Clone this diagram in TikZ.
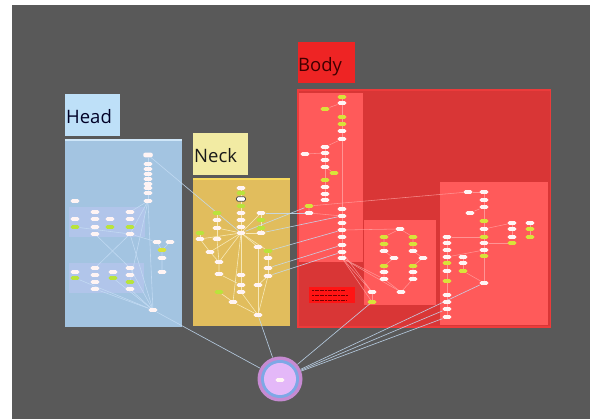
\documentclass[tikz,border=0pt]{standalone}
\usepackage{fontspec}
\setmainfont{Open Sans}
\definecolor{bggray}{HTML}{595959}
\definecolor{headc}{HTML}{A3C4E1}
\definecolor{headtop}{HTML}{CFE6F8}
\definecolor{headlab}{HTML}{BEE0F8}
\definecolor{bandc}{HTML}{B7C6EE}
\definecolor{neckc}{HTML}{E1BD5D}
\definecolor{necktop}{HTML}{F8DA5E}
\definecolor{necklab}{HTML}{F2EBA3}
\definecolor{bodyc}{HTML}{D93636}
\definecolor{bodyedge}{HTML}{EC3B3B}
\definecolor{bodylab}{HTML}{EE2424}
\definecolor{subc}{HTML}{FF5A5A}
\definecolor{notec}{HTML}{FF1414}
\definecolor{gnc}{HTML}{B9E33C}
\definecolor{ync}{HTML}{D9E23A}
\definecolor{pillc}{HTML}{FFF4F4}
\definecolor{ringo}{HTML}{C68AD2}
\definecolor{ringb}{HTML}{7EA8E6}
\definecolor{ringi}{HTML}{E4B8F8}
\definecolor{ledge}{HTML}{C4DCF4}
\definecolor{nedge}{HTML}{FAF0C8}
\definecolor{bedge}{HTML}{FFA8A8}
\pgfdeclarelayer{bgl}
\pgfdeclarelayer{edl}
\pgfsetlayers{bgl,edl,main}
\tikzset{
  wn/.style={fill=pillc, rounded corners=1.4pt, minimum width=8.6pt, minimum height=3.6pt, inner sep=0pt},
  gn/.style={wn, fill=gnc},
  yn/.style={wn, fill=ync},
  bx/.style={wn, fill=white, draw=black!70, line width=0.6pt, minimum width=9pt, minimum height=4.5pt},
  hed/.style={draw=ledge, opacity=0.9, line width=0.6pt},
  ned/.style={draw=nedge, opacity=0.85, line width=0.6pt},
  bed/.style={draw=bedge, opacity=0.75, line width=0.55pt},
  xed/.style={draw=ledge, opacity=0.85, line width=0.65pt},
  lab/.style={anchor=base west, inner sep=0pt, font=\fontsize{18.5}{20}\selectfont},
}
\begin{document}
\begin{tikzpicture}[x=1pt,y=-1pt]
\useasboundingbox (0,0) rectangle (590,419);
\begin{pgfonlayer}{bgl}
\fill[white] (0,0) rectangle (590,419);
\fill[bggray] (12,5) rectangle (590,419);
% Head
\fill[headlab] (65,94) rectangle (120,136);
\fill[headc] (65,139) rectangle (182,327);
\fill[headtop] (65,139) rectangle (182,141.5);
\fill[bandc,opacity=0.7] (69,207) rectangle (145,237);
\fill[bandc,opacity=0.7] (69,263) rectangle (144,293);
% Neck
\fill[necklab] (193,133) rectangle (248,175);
\fill[neckc] (193,178) rectangle (290,326);
\fill[necktop] (193,178) rectangle (290,180.5);
% Body
\fill[bodylab] (298,42) rectangle (355,83);
\fill[bodyedge] (297,89) rectangle (551,328);
\fill[bodyc] (298.5,91) rectangle (549.5,326.5);
\fill[subc] (298.5,93) rectangle (363,262);
\fill[subc] (364,220) rectangle (436,305);
\fill[subc] (440,182) rectangle (548,325);
\fill[notec] (309,287) rectangle (355,303);
\foreach \y/\l in {290.5/33,295.5/36,300.5/35}
  \draw[red!45!black, line width=1pt, dash pattern=on 2pt off 0.6pt] (312,\y) -- ++(\l,0);
\end{pgfonlayer}
\node[lab, text=black!85!blue] (headt) at (66,124) {Head};
\node[lab, text=black!90] (neckt) at (194,163) {Neck};
\node[lab, text=black!75!red] (bodyt) at (298,72) {Body};

% ---------- Head nodes
\node[wn, minimum width=9.5pt, minimum height=4.8pt, rounded corners=2pt] (hc1) at (148,155) {};
\foreach \y [count=\i from 2] in {164,169,174,179,184,188,193,201} \node[wn] (hc\i) at (148,\y) {};
\node[wn] (ha) at (75,201) {};
\node[wn] (b1a1) at (75,219) {}; \node[gn] (b1a2) at (75,227) {};
\foreach \y [count=\i] in {212,219,227,234} \node[wn] (b1b\i) at (95,\y) {};
\node[wn] (b1c1) at (110,219) {}; \node[gn] (b1c2) at (110,227) {};
\node[wn] (b1d1) at (130,212) {}; \node[wn] (b1d2) at (130,219) {};
\node[gn] (b1d3) at (130,227) {}; \node[wn] (b1d4) at (130,234) {};
\node[wn] (b2a1) at (75,272) {}; \node[gn] (b2a2) at (75,278) {};
\foreach \y [count=\i] in {268,275,282,289} \node[wn] (b2b\i) at (95,\y) {};
\node[wn] (b2c1) at (113,272) {}; \node[gn] (b2c2) at (113,278) {};
\node[wn] (b2d1) at (130,268) {}; \node[wn] (b2d2) at (130,275) {};
\node[gn] (b2d3) at (130,282) {}; \node[wn] (b2d4) at (130,289) {};
\node[wn] (hr1) at (157,242) {}; \node[wn] (hr2) at (170,242) {};
\node[yn] (hr3) at (162,250) {}; \node[wn] (hr4) at (162,258) {};
\node[wn] (hr5) at (162,272) {};
\node[wn] (hh) at (153,310) {};

% ---------- Neck nodes
\node[wn] (nc1) at (241,188) {};
\node[gn] (nc2) at (241,193) {};
\node[bx] (nc3) at (241,199) {};
\node[gn] (nc4) at (241,206) {};
\node[wn] (nc5) at (241,213) {};
\node[wn] (nc6) at (241,220) {};
\node[wn] (nc7) at (241,227) {};
\node[wn] (nk) at (241,233) {};
\node[gn] (nl1) at (217,213) {}; \node[wn] (nl2) at (217,220) {};
\node[wn] (nl3) at (217,228) {}; \node[wn] (nl4) at (217,239) {};
\node[gn] (nll1) at (200,233) {}; \node[wn] (nll2) at (200,239) {};
\node[wn] (nm1) at (210,252) {}; \node[wn] (nm2) at (219,262) {};
\node[wn] (nm3) at (219,274) {};
\node[wn] (nd1) at (241,275) {}; \node[wn] (nd2) at (241,285) {};
\node[wn] (nd3) at (241,292) {};
\node[gn] (ng) at (219,292) {}; \node[wn] (nh) at (233,302) {};
\node[wn] (nb) at (258,315) {};
\node[wn] (nr1) at (261,213) {}; \node[gn] (nr2) at (261,220) {};
\node[gn] (nr3) at (261,228) {}; \node[wn] (nr4) at (261,233) {};
\node[wn] (ns1) at (258,247) {};
\node[gn] (nt1) at (268,251) {}; \node[wn] (nt2) at (268,258) {};
\node[wn] (nt3) at (268,268) {}; \node[wn] (nt4) at (268,276) {};
\node[wn] (nu) at (258,285) {};

% ---------- Body left nodes
\node[yn] (bt1) at (342,97) {}; \node[wn] (bt2) at (342,103) {};
\node[yn] (bt3) at (342,117) {}; \node[yn] (bt4) at (342,124) {};
\node[wn] (bt5) at (342,131) {}; \node[wn] (bt6) at (342,139) {};
\node[yn] (bq) at (325,109) {};
\foreach \y [count=\i] in {147,153,160,167} \node[wn] (bm\i) at (325,\y) {};
\node[yn] (bm5) at (325,180) {};
\foreach \y [count=\i from 6] in {187,194,200} \node[wn] (bm\i) at (325,\y) {};
\node[yn] (bk) at (334,173) {};
\node[wn] (bxx) at (305,154) {};
\node[yn] (bl1) at (309,206) {}; \node[wn] (bl2) at (309,213) {};
\foreach \y [count=\i] in {209,216,223,230,237,245,252,258} \node[wn] (bc\i) at (342,\y) {};

% ---------- Body middle nodes
\node[wn] (mt) at (400,229) {};
\node[yn] (ml1) at (384,237) {}; \node[yn] (ml2) at (384,244) {};
\node[wn] (ml3) at (384,251) {}; \node[yn] (ml4) at (384,266) {};
\node[wn] (ml5) at (384,272) {}; \node[wn] (ml6) at (384,279) {};
\node[wn] (mlx) at (394,258) {};
\node[yn] (mr1) at (413,237) {}; \node[yn] (mr2) at (413,244) {};
\node[wn] (mr3) at (413,251) {}; \node[yn] (mr4) at (413,266) {};
\node[wn] (mr5) at (413,272) {}; \node[wn] (mr6) at (413,279) {};
\node[wn] (mrx) at (423,258) {};
\node[wn] (mb1) at (372,292) {}; \node[yn] (mb2) at (372,302) {};
\node[wn] (mb3) at (401,292) {};

% ---------- Body right nodes
\node[wn] (rs1) at (468,192) {}; \node[wn] (rs2) at (484,192) {};
\node[wn] (rc1) at (484,200) {}; \node[wn] (rc2) at (484,207) {};
\node[yn] (rc3) at (484,221) {}; \node[wn] (rc4) at (484,229) {};
\node[yn] (rc5) at (484,237) {}; \node[wn] (rc6) at (484,243) {};
\node[wn] (rc7) at (484,250) {}; \node[yn] (rc8) at (484,256) {};
\node[wn] (rc9) at (484,283) {};
\node[wn] (rx) at (470,213) {};
\foreach \y [count=\i] in {237,243,250,257} \node[wn] (rl\i) at (447,\y) {};
\node[yn] (rl5) at (447,263) {}; \node[wn] (rl6) at (447,271) {};
\node[yn] (rl7) at (447,281) {};
\foreach \y [count=\i from 8] in {295,302,309,317} \node[wn] (rl\i) at (447,\y) {};
\node[wn] (rm1) at (463,257) {}; \node[wn] (rm2) at (463,263) {};
\node[yn] (rm3) at (463,271) {};
\node[wn] (rf1) at (512,223) {}; \node[wn] (rf2) at (530,223) {};
\node[wn] (rf3) at (512,229) {}; \node[yn] (rf4) at (530,229) {};
\node[wn] (rf5) at (512,237) {}; \node[yn] (rf6) at (530,237) {};
\node[yn] (rf7) at (512,243) {};

% ---------- Root circle
\node[circle, fill=ringo, minimum size=45pt, inner sep=0pt] (root) at (280,379) {};
\node[circle, fill=ringb, minimum size=38pt, inner sep=0pt] (rootb) at (root) {};
\node[circle, fill=ringi, minimum size=32pt, inner sep=0pt] (rooti) at (root) {};
\node[wn] (rootn) at (280,380) {};

% ---------- Edges
\begin{pgfonlayer}{edl}
% head
\draw[hed] (hc1) -- (hc9);
\draw[hed] (hc9) -- (hh);
\draw[hed] (hc9) -- (b1d1);
\draw[hed] (hc9) -- (b1d4);
\draw[hed] (hc9) -- (b2d3);
\draw[hed] (b1b4) -- (b2d1);
\draw[hed] (b1d4) -- (b2b1);
\draw[hed] (b1d4) -- (hr1);
\draw[hed] (b1a2) -- (b1d4);
\draw[hed] (b1d4) -- (hh);
\draw[hed] (b2a2) -- (hh);
\draw[hed] (b2b4) -- (hh);
\draw[hed] (b2c2) -- (hh);
\draw[hed] (b2d4) -- (hh);
\draw[hed] (b2d1) -- (hh);
\draw[hed] (hr1) -- (hr3) -- (hr4) -- (hr5);
\draw[hed] (hr2) -- (hr3);
% neck
\draw[ned] (nc1) -- (nk);
\draw[ned] (nl1) -- (nl4);
\draw[ned] (nr1) -- (nr4);
\draw[ned] (nt1) -- (nt4);
\draw[ned] (nll1) -- (nll2);
\draw[ned] (nk) -- (nl3);
\draw[ned] (nk) -- (nll2);
\draw[ned] (nk) -- (nm1);
\draw[ned] (nk) -- (nm2);
\draw[ned] (nk) -- (nd1);
\draw[ned] (nk) -- (nr4);
\draw[ned] (nk) -- (ns1);
\draw[ned] (nk) -- (nt1);
\draw[ned] (nk) -- (nr1);
\draw[ned] (nk) -- (nh);
\draw[ned] (nll2) -- (nm1) -- (nm2) -- (nm3);
\draw[ned] (nl4) -- (nm2);
\draw[ned] (nm3) -- (nd2);
\draw[ned] (nd1) -- (nd3);
\draw[ned] (nd3) -- (nb);
\draw[ned] (nh) -- (nb);
\draw[ned] (ng) -- (nh);
\draw[ned] (nu) -- (nb);
\draw[ned] (nt4) -- (nu);
\draw[ned] (ns1) -- (nu);
\draw[ned] (nt4) -- (nb);
% between groups
\draw[xed] (hc1) -- (nk);
\draw[xed] (nr1) -- (bl2);
\draw[xed] (nk) -- (bl1);
\draw[xed] (nr4) -- (bc2);
\draw[xed] (nt1) -- (bc4);
\draw[xed] (nt3) -- (bc6);
\draw[xed] (nt4) -- (bc7);
% body left
\draw[bed] (bt1) -- (bc8);
\draw[bed] (bq) -- (bt2);
\draw[bed] (bt6) -- (bm1);
\draw[bed] (bm1) -- (bm8);
\draw[bed] (bxx) -- (bm2);
\draw[bed] (bk) -- (bm4);
\draw[bed] (bl1) -- (bl2) -- (bc2);
\draw[bed] (bl1) -- (rs1);
\draw[bed] (bc8) -- (mb1);
\draw[bed] (bc8) -- (mb2);
\draw[bed] (bc8) -- (ml6);
\draw[bed] (bc8) -- (mb3);
\draw[bed] (bc7) -- (mb1);
% body middle
\draw[bed] (mt) -- (ml1);
\draw[bed] (mt) -- (mr1);
\draw[bed] (ml1) -- (ml3) -- (mlx) -- (ml4) -- (ml6);
\draw[bed] (mr1) -- (mr3) -- (mrx) -- (mr4) -- (mr6);
\draw[bed] (ml6) -- (mb3);
\draw[bed] (mr6) -- (mb3);
\draw[bed] (mb1) -- (mb2);
\draw[bed] (bc4) -- (mt);
% body right
\draw[bed] (rs1) -- (rs2) -- (rc8) -- (rc9);
\draw[bed] (rx) -- (rc2);
\draw[bed] (rc6) -- (rf7);
\draw[bed] (rc4) -- (rf1);
\draw[bed] (rf1) -- (rf5);
\draw[bed] (rf2) -- (rf6);
\draw[bed] (rl1) -- (rl11);
\draw[bed] (rl4) -- (rc7);
\draw[bed] (rm1) -- (rm3);
\draw[bed] (rm3) -- (rc9);
\draw[bed] (rl1) -- (rc5);
% to root
\draw[xed] (hh) -- (root);
\draw[xed] (nb) -- (root);
\draw[xed] (mb2) -- (root);
\draw[xed] (rc9) -- (root);
\draw[xed] (rl10) -- (root);
\draw[xed] (rl11) -- (root);
\end{pgfonlayer}
\end{tikzpicture}
\end{document}
